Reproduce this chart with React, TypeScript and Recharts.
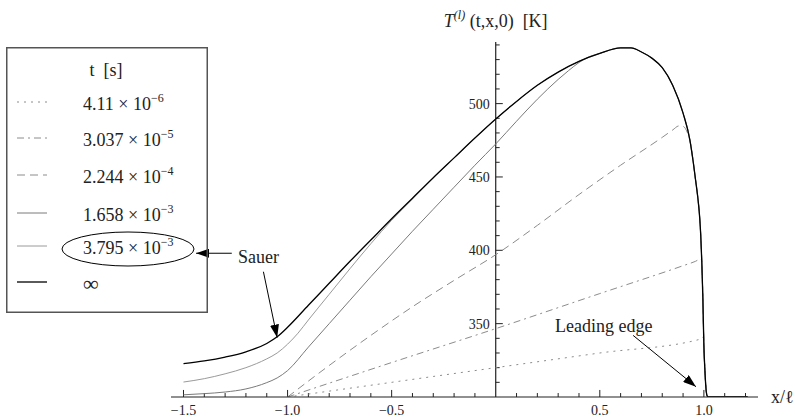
import React from "react";
import {
  Customized,
  Legend,
  Line,
  LineChart,
  ReferenceDot,
  ReferenceLine,
  XAxis,
  YAxis,
} from "recharts";

type Pt = [number, number];

// steady state (t = infinity)
const ptsInf: Pt[] = [
  [-1.5, 322.7], [-1.4, 324.6], [-1.3, 327.2], [-1.2, 330.8], [-1.1, 336.5],
  [-1.05, 341], [-1.0, 347.5], [-0.9, 362.5], [-0.8, 377.5], [-0.7, 392.5],
  [-0.6, 407], [-0.5, 421.5], [-0.4, 435.5], [-0.3, 449.5], [-0.2, 463],
  [-0.1, 476.5], [0, 489.5], [0.1, 501.5], [0.2, 512.5], [0.3, 521.5],
  [0.4, 528.8], [0.5, 534.2], [0.6, 538], [0.65, 538], [0.7, 535.2],
  [0.75, 531], [0.8, 524.5], [0.85, 512.5], [0.9, 493.5], [0.933, 475],
  [0.95, 459], [0.96, 448], [0.97, 437], [0.98, 422], [0.985, 410],
  [0.99, 392], [0.995, 368], [1.0, 335], [1.005, 318], [1.01, 306],
  [1.015, 301], [1.02, 300], [1.1, 300], [1.21, 300],
];

// t = 3.795e-3 (Sauer)
const ptsT5: Pt[] = [
  [-1.5, 310.2], [-1.4, 312.5], [-1.3, 315.8], [-1.2, 320], [-1.1, 326],
  [-1.05, 330], [-1.0, 336], [-0.95, 343.5], [-0.9, 352.5], [-0.8, 370],
  [-0.7, 387.5], [-0.6, 404.5], [-0.5, 420.5], [-0.4, 435],
  ...ptsInf.filter(([x]) => x > -0.4),
];

// t = 1.658e-3
const ptsT4: Pt[] = [
  [-1.5, 301.5], [-1.4, 302.3], [-1.3, 303.4], [-1.2, 305.5], [-1.1, 309.8],
  [-1.05, 313], [-1.0, 318], [-0.9, 334], [-0.8, 350], [-0.7, 366],
  [-0.6, 382], [-0.5, 397.5], [-0.4, 413], [-0.3, 428], [-0.2, 443],
  [-0.1, 458], [0, 472.5], [0.1, 488], [0.2, 503], [0.3, 516.5],
  [0.35, 522.5], [0.4, 528], [0.45, 532],
  ...ptsInf.filter(([x]) => x >= 0.5),
];

// t = 2.244e-4
const ptsT3: Pt[] = [
  [-1.0, 300], [-0.8, 321.5], [-0.6, 342], [-0.4, 361.5], [-0.2, 379.5],
  [0, 397], [0.2, 417], [0.4, 438], [0.6, 458], [0.8, 477], [0.85, 482],
  [0.88, 484.8], [0.9, 484.5], [0.92, 480.5], [0.933, 475],
  ...ptsInf.filter(([x]) => x > 0.933),
];

// t = 3.037e-5
const ptsT2: Pt[] = [
  [-1.0, 300], [-0.5, 323.5], [0, 346.6], [0.5, 370.5], [0.9, 389.5],
  [0.96, 392.5], [0.98, 393.8], [0.989, 393],
  ...ptsInf.filter(([x]) => x >= 0.99),
];

// t = 4.11e-6
const ptsT1: Pt[] = [
  [-1.0, 300], [0, 320], [0.5, 330], [0.99, 339.7], [0.997, 341],
  ...ptsInf.filter(([x]) => x >= 1.0),
];

const tMantissa = ["4.11", "3.037", "2.244", "1.658", "3.795", ""];
const tExponent = ["−6", "−5", "−4", "−3", "−3", ""];

const xTickLabels = [-1.5, -1.0, -0.5, 0.5, 1.0];
const xMinorTicks = [
  -1.4, -1.3, -1.2, -1.1, -0.9, -0.8, -0.7, -0.6, -0.4, -0.3, -0.2, -0.1,
  0.1, 0.2, 0.3, 0.4, 0.6, 0.7, 0.8, 0.9, 1.1, 1.2,
];
const yTickLabels = [350, 400, 450, 500];
const yMinorTicks = [
  310, 320, 330, 340, 360, 370, 380, 390, 410, 420, 430, 440, 460, 470, 480,
  490, 510, 520, 530, 540,
];

const series = [
  { key: "t1", pts: ptsT1, color: "#8c8c8c", dash: "2 5", width: 1 },
  { key: "t2", pts: ptsT2, color: "#8c8c8c", dash: "7 4 2 4", width: 1 },
  { key: "t3", pts: ptsT3, color: "#8c8c8c", dash: "8 5", width: 1 },
  { key: "t4", pts: ptsT4, color: "#7a7a7a", dash: undefined, width: 1 },
  { key: "t5", pts: ptsT5, color: "#9a9a9a", dash: undefined, width: 1 },
  { key: "inf", pts: ptsInf, color: "#000000", dash: undefined, width: 1.3 },
];

const FONT = "Liberation Serif, DejaVu Serif, Times New Roman, serif";
const INK = "#222";

// legend layout (px inside the legend box)
const legendRowY = [57, 93, 130, 168, 201, 237];

const TimeLegend = () => (
  <svg width={202} height={266} style={{ display: "block", overflow: "visible", fontFamily: FONT }}>
    <rect x={0.75} y={0.75} width={200.5} height={264.5} fill="none" stroke="#555" strokeWidth={1.5} />
    <text x={100} y={29} textAnchor="middle" fontSize={18} fill={INK} style={{ whiteSpace: "pre" }}>
      t  [s]
    </text>
    {series.map((s, i) => (
      <g key={s.key}>
        <line
          x1={11}
          x2={41}
          y1={legendRowY[i] - 2}
          y2={legendRowY[i] - 2}
          stroke={s.color}
          strokeWidth={s.width}
          strokeDasharray={s.dash}
        />
        {tMantissa[i] ? (
          <text x={77} y={legendRowY[i] + 6} fontSize={18} fill={INK}>
            {tMantissa[i]} × 10
            <tspan dy={-8} fontSize={12}>{tExponent[i]}</tspan>
          </text>
        ) : (
          <text x={77} y={legendRowY[i] + 7} fontSize={22} fill={INK}>
            ∞
          </text>
        )}
      </g>
    ))}
    <ellipse cx={122} cy={202} rx={66} ry={17} fill="none" stroke="#000" strokeWidth={1} />
  </svg>
);

const AxisTitle = ({ viewBox }: any) => (
  <text
    x={viewBox.x}
    y={viewBox.y - 15}
    textAnchor="middle"
    fontSize={18}
    fill={INK}
    style={{ whiteSpace: "pre", fontFamily: FONT }}
  >
    <tspan fontStyle="italic">T</tspan>
    <tspan fontStyle="italic" fontSize={12} dy={-8}>(l)</tspan>
    <tspan dy={8}> (t,x,0)  [K]</tspan>
  </text>
);

const ArrowDefs = () => (
  <defs>
    <marker
      id="arrowHead"
      viewBox="0 0 13 9"
      refX={13}
      refY={4.5}
      markerWidth={13}
      markerHeight={9}
      markerUnits="userSpaceOnUse"
      orient="auto"
    >
      <path d="M0,0 L13,4.5 L0,9 z" fill="#000" />
    </marker>
  </defs>
);

const labelStyle = { fill: INK, style: { fontFamily: FONT } };

export default function App() {
  return (
    <div style={{ position: "absolute", left: 0, top: 0, background: "#fff", fontFamily: FONT }}>
      <LineChart
        width={795}
        height={419}
        margin={{ top: 42, right: 37, bottom: 0, left: 171 }}
        style={{ fontFamily: FONT }}
      >
        <Customized component={ArrowDefs} />
        <XAxis
          type="number"
          dataKey="x"
          domain={[-1.56, 1.26]}
          allowDataOverflow
          ticks={xTickLabels}
          tickFormatter={(v: number) => v.toFixed(1).replace("-", "−")}
          tickLine={false}
          axisLine={{ stroke: INK, strokeWidth: 1.2 }}
          tick={{ fontSize: 14, fill: INK, style: { fontFamily: FONT } }}
          height={22}
        />
        <YAxis type="number" dataKey="T" domain={[300, 542]} allowDataOverflow hide />

        {/* vertical axis through x = 0 */}
        <ReferenceLine x={0} stroke={INK} strokeWidth={1.2} label={<AxisTitle />} />
        {yTickLabels.map((v) => (
          <ReferenceLine key={"ymaj" + v} segment={[{ x: 0, y: v }, { x: 0.034, y: v }]} stroke={INK} />
        ))}
        {yMinorTicks.map((v) => (
          <ReferenceLine key={"ymin" + v} segment={[{ x: 0, y: v }, { x: 0.019, y: v }]} stroke={INK} />
        ))}
        {yTickLabels.map((v) => (
          <ReferenceDot
            key={"ylab" + v}
            x={0}
            y={v}
            r={0}
            fill="none"
            stroke="none"
            label={{ value: String(v), position: "left", offset: 6, fontSize: 14, ...labelStyle }}
          />
        ))}
        {xTickLabels.map((v) => (
          <ReferenceLine key={"xmaj" + v} segment={[{ x: v, y: 300 }, { x: v, y: 304.8 }]} stroke={INK} />
        ))}
        {xMinorTicks.map((v) => (
          <ReferenceLine key={"xmin" + v} segment={[{ x: v, y: 300 }, { x: v, y: 302.7 }]} stroke={INK} />
        ))}
        <ReferenceDot
          x={1.26}
          y={300}
          r={0}
          fill="none"
          stroke="none"
          label={{ value: "x/ℓ", position: "right", offset: 13, fontSize: 18, ...labelStyle }}
        />

        {series.map((s) => (
          <Line
            key={s.key}
            data={s.pts.map(([x, T]) => ({ x, T }))}
            dataKey="T"
            type="monotone"
            stroke={s.color}
            strokeWidth={s.width}
            strokeDasharray={s.dash}
            dot={false}
            activeDot={false}
            isAnimationActive={false}
          />
        ))}

        {/* annotations */}
        <ReferenceDot
          x={-1.238}
          y={395.6}
          r={0}
          fill="none"
          stroke="none"
          label={{ value: "Sauer", position: "right", offset: 0, fontSize: 18, ...labelStyle }}
        />
        <ReferenceLine
          segment={[{ x: -1.268, y: 398 }, { x: -1.4395, y: 398 }]}
          stroke="#000"
          markerEnd="url(#arrowHead)"
        />
        <ReferenceLine
          segment={[{ x: -1.116, y: 385.4 }, { x: -1.05, y: 340.5 }]}
          stroke="#000"
          markerEnd="url(#arrowHead)"
        />
        <ReferenceDot
          x={0.285}
          y={349}
          r={0}
          fill="none"
          stroke="none"
          label={{ value: "Leading edge", position: "right", offset: 0, fontSize: 18, ...labelStyle }}
        />
        <ReferenceLine
          segment={[{ x: 0.66, y: 342 }, { x: 0.962, y: 307 }]}
          stroke="#000"
          markerEnd="url(#arrowHead)"
        />

        <Legend
          layout="horizontal"
          verticalAlign="middle"
          align="center"
          content={() => <TimeLegend />}
          wrapperStyle={{ position: "absolute", left: 6, top: 47, width: 202, height: 266, bottom: "auto", right: "auto" }}
        />
      </LineChart>
    </div>
  );
}
